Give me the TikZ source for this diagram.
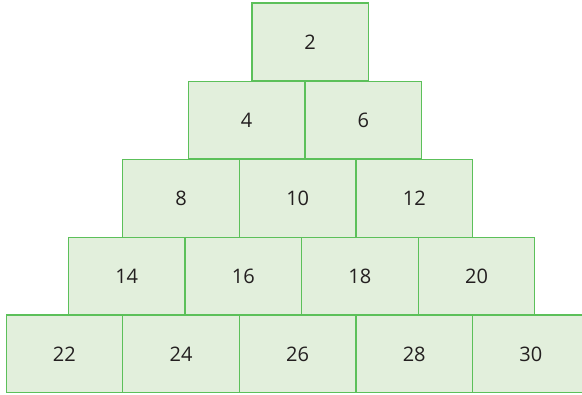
\documentclass[tikz,border=0pt]{standalone}
\usepackage{fontspec}
\setmainfont{Open Sans}
\usepackage{xcolor}
\usetikzlibrary{positioning}
\definecolor{bordvert}{HTML}{5CC05A}
\definecolor{fondvert}{HTML}{E2EFDC}
\definecolor{chiffre}{HTML}{231F20}
\tikzset{
  brique/.style={rectangle, draw=bordvert, fill=fondvert, line width=1.2pt,
    text=chiffre, font=\fontsize{20}{24}\selectfont,
    minimum width=116.6pt, minimum height=77.8pt, inner sep=0pt, outer sep=0pt}
}

\begin{document}
\begin{tikzpicture}[x=1pt, y=-1pt, node distance=0pt]
    \useasboundingbox (0,0) rectangle (582,395);
    \clip (0,0) rectangle (582,395);
    % rangee du haut
    \node[brique] at (310.2,41.9) (b2) {2};
    % deuxieme rangee
    \node[brique] at (246.7,120.2) (b4) {4};
    \node[brique, right=of b4] (b6) {6};
    % troisieme rangee
    \node[brique] at (181.1,198.6) (b8) {8};
    \node[brique, right=of b8] (b10) {10};
    \node[brique, right=of b10] (b12) {12};
    % quatrieme rangee
    \node[brique] at (126.7,276.4) (b14) {14};
    \node[brique, right=of b14] (b16) {16};
    \node[brique, right=of b16] (b18) {18};
    \node[brique, right=of b18] (b20) {20};
    % base
    \node[brique] at (64.4,353.9) (b22) {22};
    \node[brique, right=of b22] (b24) {24};
    \node[brique, right=of b24] (b26) {26};
    \node[brique, right=of b26] (b28) {28};
    \node[brique, right=of b28] (b30) {30};
\end{tikzpicture}
\end{document}
